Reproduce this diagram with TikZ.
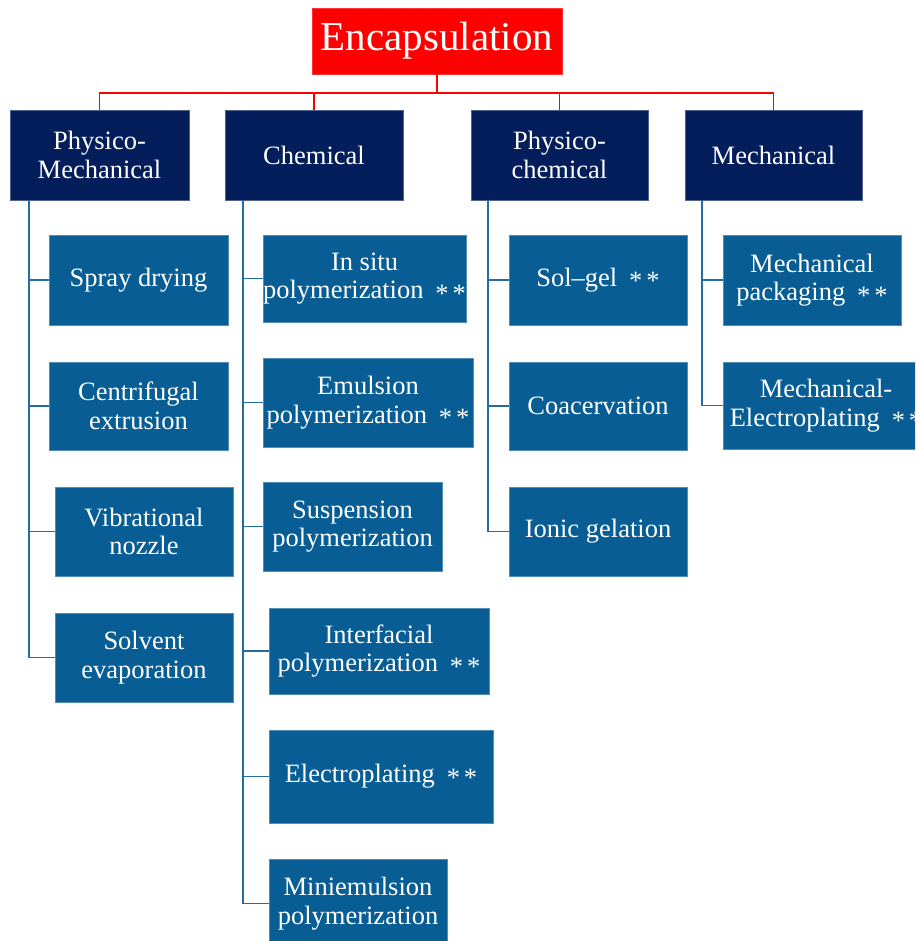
\documentclass[tikz,border=0pt]{standalone}
\usepackage{fontspec}
\setmainfont{Liberation Serif}
\definecolor{navyb}{RGB}{4,30,92}
\definecolor{blueb}{RGB}{8,94,148}
\definecolor{lineb}{RGB}{36,108,165}
\definecolor{redb}{RGB}{255,0,0}
\newcommand\twostar{\hspace{0.45em}\raisebox{-0.3ex}{*}\hspace{0.15em}\raisebox{-0.3ex}{*}}
\begin{document}
\begin{tikzpicture}[x=1pt,y=-1pt,
  base/.style={rectangle, inner sep=0pt, align=center, text=white,
    font=\fontsize{26.5}{28.5}\selectfont},
  l0/.style={base, fill=redb, draw=redb!80!white, line width=0.6pt,
    font=\fontsize{41}{46}\selectfont},
  l1/.style={base, fill=navyb, draw=navyb!70!white, line width=0.6pt},
  l2/.style={base, fill=blueb, draw=blueb!70!white, line width=0.6pt},
  conn/.style={draw=lineb, line width=1.6pt},
  rconn/.style={draw=redb, line width=1.6pt}]
\useasboundingbox (0,0) rectangle (915,941);
\clip (0,0) rectangle (915,941);
% top
\node[l0, minimum width=250pt, minimum height=66pt] (enc) at (437,41) {Encapsulation};
% level 1
\node[l1, minimum width=179pt, minimum height=90pt] (pm) at (99.5,155) {Physico-\\Mechanical};
\node[l1, minimum width=178pt, minimum height=90pt] (ch) at (314,155) {Chemical};
\node[l1, minimum width=177pt, minimum height=90pt] (pc) at (559.5,155) {Physico-\\chemical};
\node[l1, minimum width=177pt, minimum height=90pt] (me) at (773.5,155) {Mechanical};
% red connectors
\coordinate (rb) at (437,93);
\draw[rconn] (enc.south) -- (rb);
\draw[rconn] (rb) -| (pm.north);
\draw[rconn] (rb) -| (ch.north);
\draw[rconn] (rb) -| (pc.north);
\draw[rconn] (rb) -| (me.north);
% level 2: physico-mechanical
\node[l2, minimum width=179pt, minimum height=90pt] (sd) at (138.5,280) {Spray drying};
\node[l2, minimum width=179pt, minimum height=88pt] (ce) at (138.5,406) {Centrifugal\\extrusion};
\node[l2, minimum width=178pt, minimum height=89pt] (vn) at (144,531.5) {Vibrational\\nozzle};
\node[l2, minimum width=178pt, minimum height=89pt] (se) at (144,657.5) {Solvent\\evaporation};
% chemical
\node[l2, minimum width=203pt, minimum height=87pt] (is) at (364.5,278.5) {In situ\\polymerization\twostar};
\node[l2, minimum width=210pt, minimum height=89pt] (em) at (368,402.5) {Emulsion\\polymerization\twostar};
\node[l2, minimum width=179pt, minimum height=89pt] (su) at (352.5,526.5) {Suspension\\polymerization};
\node[l2, minimum width=220pt, minimum height=86pt] (inf) at (379,651) {Interfacial\\polymerization\twostar};
\node[l2, minimum width=224pt, minimum height=93pt] (el) at (381,776.5) {Electroplating\twostar};
\node[l2, minimum width=178pt, minimum height=89pt] (mi) at (358,903.5) {Miniemulsion\\polymerization};
% physico-chemical
\node[l2, minimum width=178pt, minimum height=90pt] (sg) at (598,280) {Sol--gel\twostar};
\node[l2, minimum width=178pt, minimum height=88pt] (co) at (598,406) {Coacervation};
\node[l2, minimum width=178pt, minimum height=89pt] (ig) at (598,531.5) {Ionic gelation};
% mechanical
\node[l2, minimum width=178pt, minimum height=90pt] (mp) at (812,280) {Mechanical\\packaging\twostar};
\node[l2, minimum width=206pt, minimum height=87pt] (mep) at (826,405.5) {Mechanical-\\Electroplating\twostar};
% trunks
\coordinate (tpm) at (29,200);
\coordinate (tch) at (243,200);
\coordinate (tpc) at (488,200);
\coordinate (tme) at (702,200);
\foreach \c in {sd,ce,vn,se} \draw[conn] (tpm) |- (\c.west);
\foreach \c in {is,em,su,inf,el,mi} \draw[conn] (tch) |- (\c.west);
\foreach \c in {sg,co,ig} \draw[conn] (tpc) |- (\c.west);
\foreach \c in {mp,mep} \draw[conn] (tme) |- (\c.west);
\end{tikzpicture}
\end{document}
